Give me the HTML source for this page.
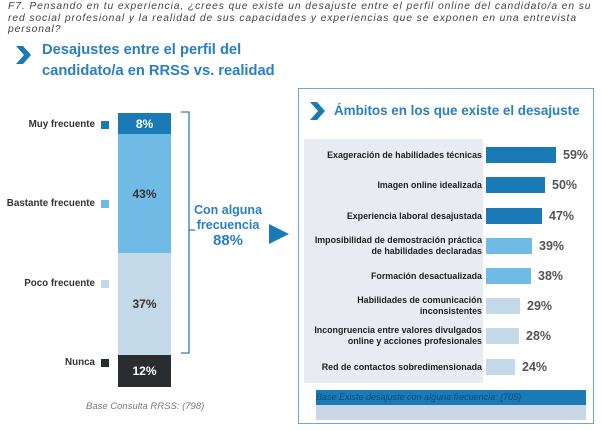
<!DOCTYPE html>
<html><head><meta charset="utf-8"><style>
body{margin:0;width:601px;height:430px;background:#fff;font-family:"Liberation Sans",sans-serif;position:relative;overflow:hidden}
.a{position:absolute}
.q{left:8px;top:1px;font-size:10.3px;letter-spacing:.9px;font-style:italic;color:#444;line-height:11.5px;white-space:nowrap}
.t{color:#2a7fc1;font-size:14.7px;font-weight:bold;line-height:21px;white-space:nowrap}
.lab{font-size:9.8px;font-weight:bold;color:#333;text-align:right;width:95px;left:0}
.sq{width:8px;height:8px;left:101px}
.seg{left:118px;width:53px;color:#333;font-weight:bold;font-size:12px;display:flex;align-items:center;justify-content:center}
.rl{font-size:8.9px;font-weight:bold;color:#222;text-align:right;width:178px;left:304px;line-height:11px;white-space:nowrap}
.rb{left:486px;height:16px}
.rp{font-size:12.5px;font-weight:bold;color:#555}
</style></head><body>
<div class="a q">F7. Pensando en tu experiencia, ¿crees que existe un desajuste entre el perfil online del candidato/a en su<br>red social profesional y la realidad de sus capacidades y experiencias que se exponen en una entrevista<br>personal?</div>
<svg class="a" style="left:16px;top:46px" width="16" height="18"><path d="M0 0H7L15 9L7 18H0L8 9Z" fill="#1a7ab5"/></svg>
<div class="a t" style="left:42px;top:40px">Desajustes entre el perfil del<br>candidato/a en RRSS vs. realidad</div>

<div class="a lab" style="top:119px">Muy frecuente</div><div class="a sq" style="top:121px;background:#1a7ab5"></div>
<div class="a lab" style="top:198px">Bastante frecuente</div><div class="a sq" style="top:200px;background:#6fbbe6"></div>
<div class="a lab" style="top:278px">Poco frecuente</div><div class="a sq" style="top:280px;background:#c3d9e8"></div>
<div class="a lab" style="top:357px">Nunca</div><div class="a sq" style="top:359px;background:#2a2d30"></div>

<div class="a seg" style="top:113px;height:21px;background:#1a7ab5;color:#fff">8%</div>
<div class="a seg" style="top:134px;height:119px;background:#6fbbe6">43%</div>
<div class="a seg" style="top:253px;height:102px;background:#c3d9e8">37%</div>
<div class="a seg" style="top:355px;height:32px;background:#2a2d30;color:#fff">12%</div>
<svg class="a" style="left:178px;top:110px" width="20" height="250"><path d="M3 2H11V243H3M11 120H17" stroke="#2a7fc1" stroke-width="1.3" fill="none"/></svg>
<div class="a" style="left:190px;top:203px;width:76px;text-align:center;color:#2a7fc1;font-weight:bold;font-size:12.5px;line-height:15px">Con alguna<br>frecuencia<br><span style="font-size:15px">88%</span></div>
<svg class="a" style="left:268px;top:223px" width="22" height="22"><path d="M1 1L21 11L1 21Z" fill="#1a7ab5"/></svg>
<div class="a" style="left:86px;top:401px;font-size:9.5px;font-style:italic;color:#777">Base Consulta RRSS: (798)</div>

<div class="a" style="left:298px;top:88px;width:296px;height:336px;border:1.5px solid #6fa6d6;box-sizing:border-box"></div>
<svg class="a" style="left:310px;top:102px" width="17" height="18"><path d="M0 0H7L15 9L7 18H0L8 9Z" fill="#1a7ab5"/></svg>
<div class="a t" style="left:334px;top:100px;font-size:13.4px">Ámbitos en los que existe el desajuste</div>
<div class="a" style="left:304px;top:139px;width:179px;height:244px;background:#e8ebf1"></div>

<div class="a rl" style="top:150px">Exageración de habilidades técnicas</div><div class="a rb" style="top:147px;width:70px;background:#1a7ab5"></div><div class="a rp" style="left:563px;top:148px">59%</div>
<div class="a rl" style="top:180px">Imagen online idealizada</div><div class="a rb" style="top:177px;width:59px;background:#1a7ab5"></div><div class="a rp" style="left:552px;top:178px">50%</div>
<div class="a rl" style="top:211px">Experiencia laboral desajustada</div><div class="a rb" style="top:208px;width:56px;background:#1a7ab5"></div><div class="a rp" style="left:549px;top:209px">47%</div>
<div class="a rl" style="top:235px">Imposibilidad de demostración práctica<br>de habilidades declaradas</div><div class="a rb" style="top:238px;width:46px;background:#6fbbe6"></div><div class="a rp" style="left:539px;top:239px">39%</div>
<div class="a rl" style="top:271px">Formación desactualizada</div><div class="a rb" style="top:268px;width:45px;background:#6fbbe6"></div><div class="a rp" style="left:538px;top:269px">38%</div>
<div class="a rl" style="top:295px">Habilidades de comunicación<br>inconsistentes</div><div class="a rb" style="top:298px;width:34px;background:#c3d9e8"></div><div class="a rp" style="left:527px;top:299px">29%</div>
<div class="a rl" style="top:325px">Incongruencia entre valores divulgados<br>online y acciones profesionales</div><div class="a rb" style="top:328px;width:33px;background:#c3d9e8"></div><div class="a rp" style="left:526px;top:329px">28%</div>
<div class="a rl" style="top:362px">Red de contactos sobredimensionada</div><div class="a rb" style="top:359px;width:29px;background:#c3d9e8"></div><div class="a rp" style="left:522px;top:360px">24%</div>

<div class="a" style="left:316px;top:390px;width:270px;height:15px;background:#1a7ab5;font-size:9px;font-style:italic;color:#0d4d7a;line-height:15px">Base Existe desajuste con alguna frecuencia: (705)</div>
<div class="a" style="left:316px;top:405px;width:270px;height:15px;background:#c8d6e6"></div>
</body></html>
